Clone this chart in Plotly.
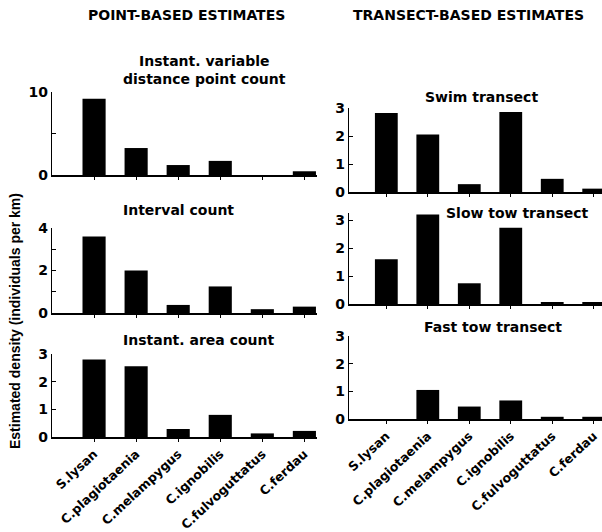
import plotly.graph_objects as go

species = ["S.lysan", "C.plagiotaenia", "C.melampygus", "C.ignobilis", "C.fulvoguttatus", "C.ferdau"]

instant_variable = [9.2, 3.25, 1.2, 1.7, 0.0, 0.45]
interval_count = [3.6, 2.0, 0.38, 1.25, 0.18, 0.3]
instant_area = [2.8, 2.56, 0.29, 0.8, 0.13, 0.22]
swim_transect = [2.82, 2.05, 0.28, 2.86, 0.47, 0.12]
slow_tow = [1.6, 3.2, 0.74, 2.72, 0.05, 0.06]
fast_tow = [0.0, 1.05, 0.45, 0.67, 0.08, 0.08]

W, H = 602, 532
FONT = "DejaVu Sans"
FONT2 = "Liberation Sans"

def xd(a, b):
    return [a / W, b / W]

def yd(top, bottom):
    return [1 - bottom / H, 1 - top / H]

panels = [
    # (values, xdomain px, ydomain px (top, bottom), xrange, yrange, tickvals, ticktext, show x labels)
    (instant_variable, (52, 317), (92, 175), [-1, 5.3], [0, 10], [0, 5, 10], ["0", "", "10"], False),
    (interval_count, (52, 317), (228, 313), [-1, 5.3], [0, 4], [0, 1, 2, 3, 4], ["0", "", "2", "", "4"], False),
    (instant_area, (52, 317), (354, 437), [-1, 5.3], [0, 3], [0, 1, 2, 3], ["0", "1", "2", "3"], True),
    (swim_transect, (349, 602), (108, 192), [-0.9, 5.2], [0, 3], [0, 1, 2, 3], ["0", "1", "2", "3"], False),
    (slow_tow, (349, 602), (213, 304), [-0.9, 5.2], [0, 3.25], [0, 1, 2, 3], ["0", "1", "2", "3"], False),
    (fast_tow, (349, 602), (336, 419), [-0.9, 5.2], [0, 3], [0, 1, 2, 3], ["0", "1", "2", "3"], True),
]

fig = go.Figure()
layout = {}
for i, (vals, xdom, ydom, xr, yr, tv, tt, showx) in enumerate(panels, start=1):
    sfx = "" if i == 1 else str(i)
    fig.add_trace(go.Bar(
        x=list(range(len(species))), y=vals,
        xaxis="x" + sfx, yaxis="y" + sfx,
        marker=dict(color="black", line=dict(width=0)),
        width=0.55, showlegend=False,
    ))
    layout["xaxis" + sfx] = dict(
        domain=xd(*xdom), anchor="y" + sfx, range=xr,
        tickvals=list(range(len(species))),
        ticktext=species if showx else [""] * len(species),
        showticklabels=showx, tickangle=-43,
        ticks="outside", ticklen=3, tickwidth=1, tickcolor="black",
        showline=True, linecolor="black", linewidth=1.6,
        showgrid=False, zeroline=False, automargin=False,
        tickfont=dict(family=FONT, size=12.5, color="black", weight="bold"),
        fixedrange=True,
    )
    layout["yaxis" + sfx] = dict(
        domain=yd(*ydom), anchor="x" + sfx, range=yr,
        tickvals=tv, ticktext=tt,
        ticks="inside", ticklen=4, tickwidth=1, tickcolor="black",
        showline=True, linecolor="black", linewidth=1.2,
        showgrid=False, zeroline=False, automargin=False,
        tickfont=dict(family=FONT, size=14, color="black", weight="bold"),
        fixedrange=True,
    )

def ann(text, xpx, ypx, size=14, xanchor="left", angle=0, family=FONT):
    return dict(
        text=text, x=xpx / W, y=1 - ypx / H, xref="paper", yref="paper",
        xanchor=xanchor, yanchor="middle", showarrow=False, textangle=angle,
        font=dict(family=family, size=size, color="black", weight="bold"),
    )

annotations = [
    ann("POINT-BASED ESTIMATES", 186, 15, size=14, xanchor="center"),
    ann("TRANSECT-BASED ESTIMATES", 468, 15, size=14, xanchor="center"),
    ann("Instant. variable<br>distance point count", 121, 70),
    ann("Interval count", 121, 210),
    ann("Instant. area count", 121, 340),
    ann("Swim transect", 423, 97),
    ann("Slow tow transect", 444, 213),
    ann("Fast tow transect", 422, 327),
    ann("Estimated density (individuals per km)", 15, 321, size=14, xanchor="center", angle=-90, family=FONT2),
]

fig.update_layout(
    width=W, height=H,
    margin=dict(l=0, r=0, t=0, b=0, autoexpand=False),
    paper_bgcolor="white", plot_bgcolor="white",
    font=dict(family=FONT, size=13, color="black", weight="bold"),
    annotations=annotations,
    bargap=0.45,
    **layout,
)

fig.write_html("out.html")
